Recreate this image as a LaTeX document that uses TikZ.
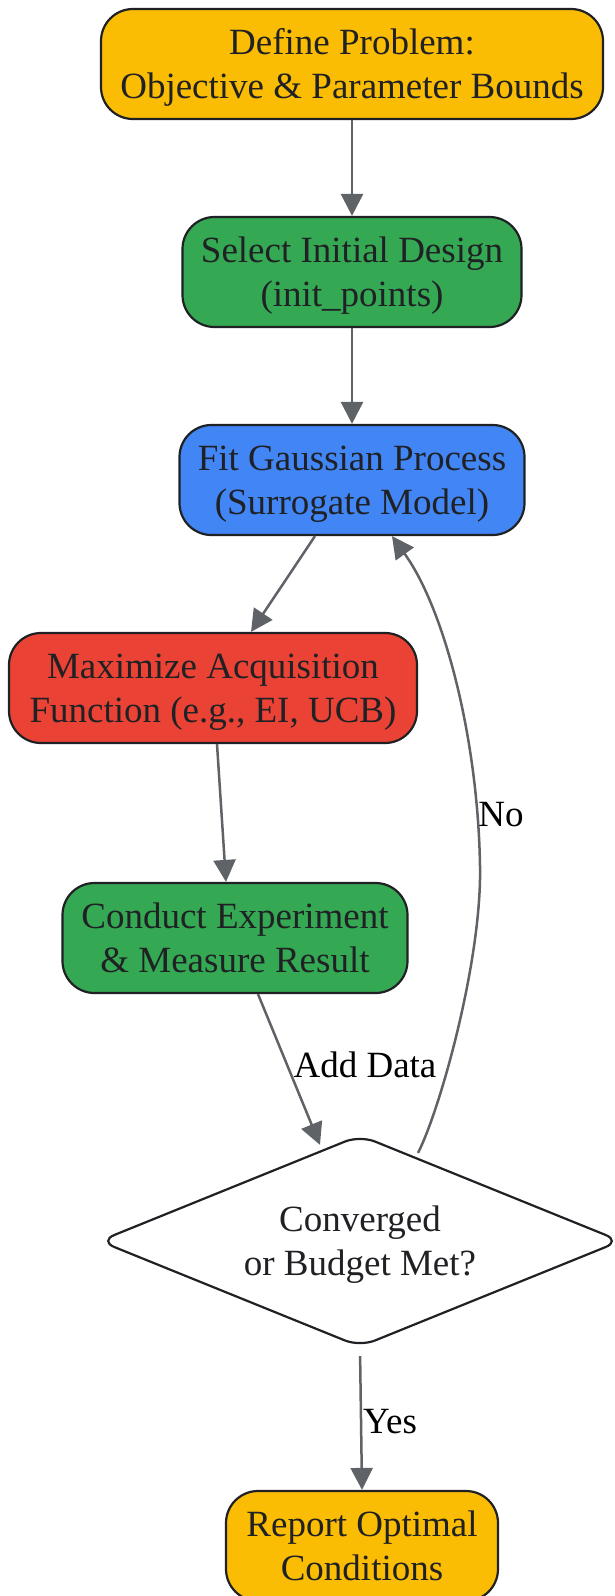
\documentclass[tikz,border=0pt]{standalone}
\usepackage{fontspec}
\setmainfont{Liberation Serif}
\usetikzlibrary{arrows.meta,shapes.geometric,calc}
\definecolor{gyellow}{HTML}{FBBC04}
\definecolor{ggreen}{HTML}{34A853}
\definecolor{gblue}{HTML}{4285F4}
\definecolor{gred}{HTML}{EA4335}
\definecolor{edgegray}{HTML}{5F6368}
\definecolor{strokedark}{HTML}{202124}
\newcommand\twolines[2]{\rule{0pt}{34pt}#1\\#2\rule[-9pt]{0pt}{9pt}}
\begin{document}
\begin{tikzpicture}[x=1pt,y=-1pt,
  box/.style={draw=strokedark,line width=2.2pt,rounded corners=32pt,align=center,
    text=strokedark,font=\fontsize{37}{44}\selectfont,minimum height=110pt,inner sep=0pt},
  dec/.style={draw=strokedark,line width=2.2pt,shape=diamond,aspect=2.47,rounded corners=16pt,
    align=center,text=strokedark,font=\fontsize{37}{44}\selectfont,
    minimum width=522pt,minimum height=212pt,inner sep=0pt,fill=white},
  arr/.style={draw=edgegray,line width=2.5pt,-{Triangle[length=22pt,width=22pt]}},
  lbl/.style={font=\fontsize{37}{44}\selectfont,text=black,inner sep=1pt}]
\useasboundingbox (0,0) rectangle (614,1596);
\node[box,fill=gyellow,minimum width=502pt] (n1) at (352,64) {\twolines{Define Problem:}{Objective \& Parameter Bounds}};
\node[box,fill=ggreen,minimum width=339pt] (n2) at (352,272) {\twolines{Select Initial Design}{(init\_points)}};
\node[box,fill=gblue,minimum width=345pt] (n3) at (352,480) {\twolines{Fit Gaussian Process}{(Surrogate Model)}};
\node[box,fill=gred,minimum width=408pt] (n4) at (213,688) {\twolines{Maximize Acquisition}{Function (e.g., EI, UCB)}};
\node[box,fill=ggreen,minimum width=345pt] (n5) at (235,938) {\twolines{Conduct Experiment}{\& Measure Result}};
\node[dec] (d) at (360,1241) {\twolines{Converged}{or Budget Met?}};
\node[box,fill=gyellow,minimum width=272pt] (n7) at (362,1546) {\twolines{Report Optimal}{Conditions}};

\draw[arr] (n1) -- (n2);
\draw[arr] (n2) -- (n3);
\draw[arr] ($(n3.south)+(-37,0)$) -- ($(n4.north)+(38,0)$);
\draw[arr] ($(n4.south)+(4,0)$) -- ($(n5.north)+(-9,0)$);
\draw[arr] ($(n5.south)+(23,0)$) -- ($(d.north)+(-40,11)$);
\node[lbl] (la) at (365,1065) {Add Data};
\draw[arr] ($(d.north)+(58,19)$) .. controls (440,1110) and (482,960) .. (480,866)
  .. controls (478,740) and (445,610) .. ($(n3.south)+(40,0)$);
\node[lbl] (lno) at (501,815) {No};
\draw[arr,shorten <=8pt] (d.south) -- (n7.north);
\node[lbl] (lyes) at (390,1422) {Yes};
\end{tikzpicture}
\end{document}
